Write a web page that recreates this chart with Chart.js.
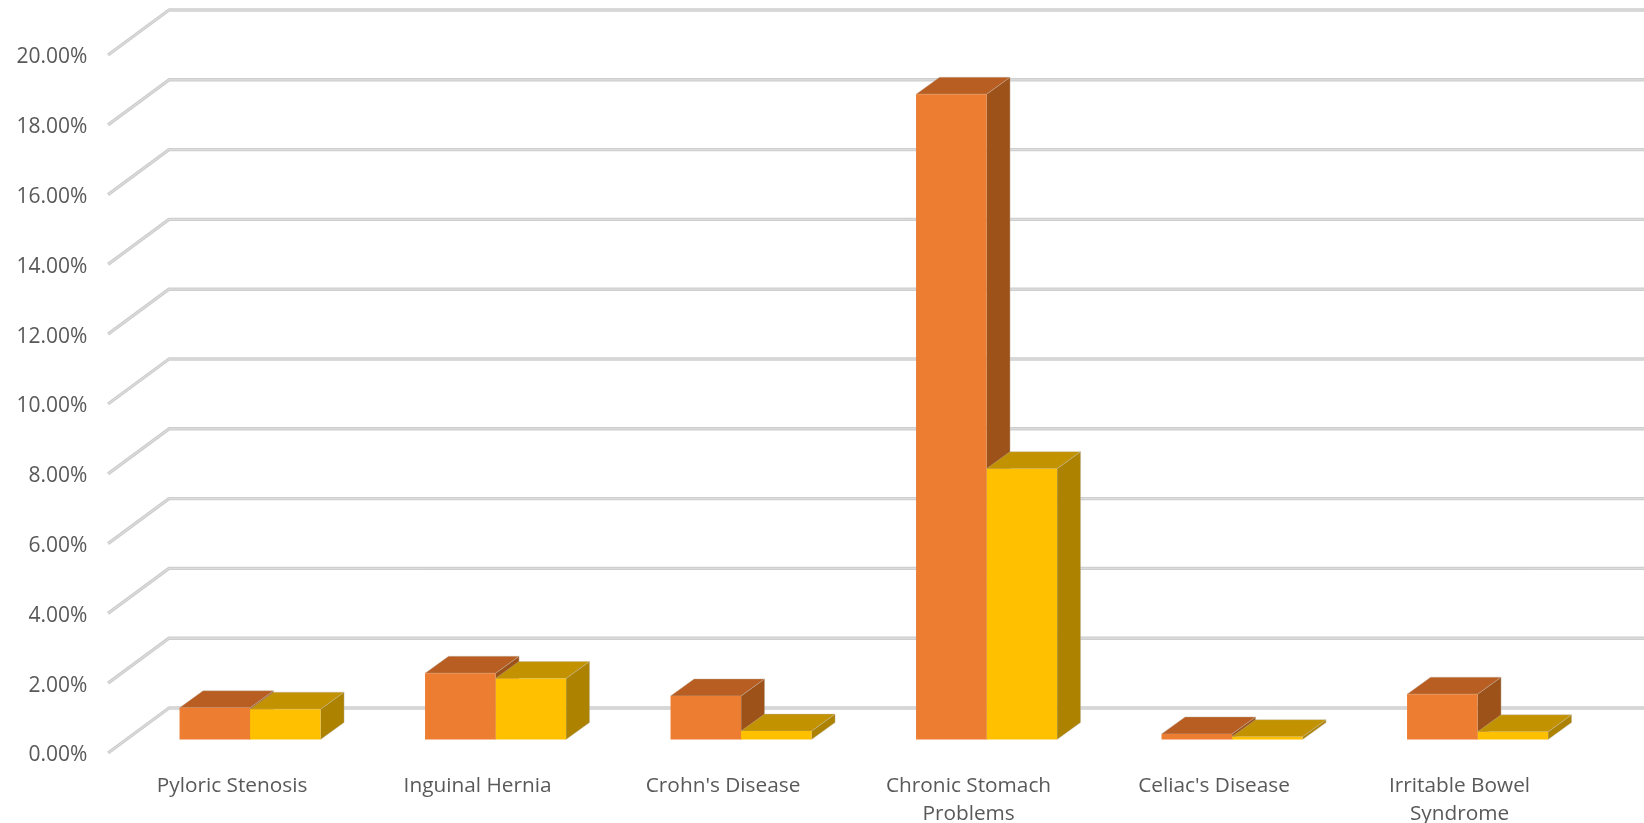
<!DOCTYPE html>
<html>
<head>
<meta charset="utf-8">
<title>Chart</title>
<script src="https://cdn.jsdelivr.net/npm/chart.js@4"></script>
<style>
    html, body { margin: 0; padding: 0; background: #fff; overflow: hidden; }
    #wrap { width: 1644px; height: 823px; }
</style>
</head>
<body>
<div id="wrap"><canvas id="myChart"></canvas></div>
<script>
// du lieu doc tu hinh
const categories = [
    'Pyloric Stenosis',
    'Inguinal Hernia',
    "Crohn's Disease",
    ['Chronic Stomach', 'Problems'],
    "Celiac's Disease",
    ['Irritable Bowel', 'Syndrome']
];
const seriesA = [0.91, 1.90, 1.25, 18.49, 0.16, 1.30];
const seriesB = [0.87, 1.75, 0.24, 7.76, 0.08, 0.22];
const axisMax = 20;
const axisStep = 2;

// gia 3D: do lech cua tuong sau va cua cot
const wallBackX = 61, wallBackY = -45;
const planeX = 19.3, planeY = 13.5;   // mat phang cot so voi mep truoc tuong
const barDepthX = 23.5, barDepthY = -17;
const pxPerUnit = 698 / axisMax;

const faces = [
    { front: '#ED7D31', top: '#B95E22', side: '#9C5219' },
    { front: '#FFC000', top: '#C29200', side: '#AC8200' }
];
const edgeColor = 'rgba(190,185,175,0.4)';

const fake3d = {
    id: 'fake3d',
    beforeDatasetsDraw(chart) {
        const ctx = chart.ctx;
        const yAxis = chart.scales.yAxis;
        const x0 = chart.chartArea.left - planeX;
        ctx.save();
        ctx.lineJoin = 'round';
        // tuong sau + duong luoi (2 lop: vien xam, giua sang hon)
        yAxis.ticks.forEach(function(t) {
            const y = yAxis.getPixelForValue(t.value);
            ctx.beginPath();
            ctx.moveTo(x0, y);
            ctx.lineTo(x0 + wallBackX, y + wallBackY);
            ctx.lineTo(chart.width, y + wallBackY);
            ctx.strokeStyle = '#CECECE';
            ctx.lineWidth = 3.4;
            ctx.stroke();
            ctx.strokeStyle = '#DFDFDF';
            ctx.lineWidth = 1;
            ctx.stroke();
        });
        // mat tren va mat ben: cot cam truoc, cot vang de len
        ctx.lineWidth = 1;
        ctx.strokeStyle = edgeColor;
        chart.data.datasets.forEach(function(ds, i) {
            const f = faces[i];
            chart.getDatasetMeta(i).data.forEach(function(bar) {
                const l = bar.x - bar.width / 2, r = bar.x + bar.width / 2;
                const t = bar.y, b = bar.base;

                ctx.fillStyle = f.side;
                ctx.beginPath();
                ctx.moveTo(r, t);
                ctx.lineTo(r + barDepthX, t + barDepthY);
                ctx.lineTo(r + barDepthX, b + barDepthY);
                ctx.lineTo(r, b);
                ctx.closePath();
                ctx.fill();
                ctx.stroke();

                ctx.fillStyle = f.top;
                ctx.beginPath();
                ctx.moveTo(l, t);
                ctx.lineTo(l + barDepthX, t + barDepthY);
                ctx.lineTo(r + barDepthX, t + barDepthY);
                ctx.lineTo(r, t);
                ctx.closePath();
                ctx.fill();
                ctx.stroke();
            });
        });
        ctx.restore();
    }
};

const config = {
    type: 'bar',
    data: {
        labels: categories,
        datasets: [
            { data: seriesA, backgroundColor: faces[0].front, borderWidth: 0, yAxisID: 'y' },
            { data: seriesB, backgroundColor: faces[1].front, borderWidth: 0, yAxisID: 'y' }
        ]
    },
    options: {
        responsive: true,
        maintainAspectRatio: false,
        animation: false,
        layout: { padding: { left: 0, right: 43.7, top: 55, bottom: 0 } },
        plugins: { legend: { display: false }, tooltip: { enabled: false }, title: { display: false } },
        datasets: { bar: { barPercentage: 1, categoryPercentage: 141 / 245.5 } },
        scales: {
            x: {
                grid: { display: false, drawTicks: false },
                border: { display: false },
                ticks: {
                    padding: 18.5,
                    labelOffset: -18,
                    maxRotation: 0,
                    autoSkip: false,
                    color: '#595959',
                    font: { family: '"Open Sans"', size: 20.8, lineHeight: 1.37 }
                },
                afterFit(scale) { scale.height = 70; }
            },
            // truc cua cot: cung ti le, nhung so 0 nam cao hon mep truoc tuong
            y: {
                display: false,
                min: -planeY / pxPerUnit,
                max: axisMax - planeY / pxPerUnit
            },
            // truc hien so nam o mep truoc tuong
            yAxis: {
                position: 'left',
                min: 0,
                max: axisMax,
                grid: { display: false, drawTicks: false },
                border: { display: false },
                ticks: {
                    stepSize: axisStep,
                    padding: 40,
                    labelOffset: 2.5,
                    color: '#595959',
                    font: { family: '"Open Sans"', size: 21 },
                    callback: function(v) { return v.toFixed(2) + '%'; }
                },
                afterFit(scale) { scale.width = 127.3; }
            }
        }
    },
    plugins: [fake3d]
};

var ctx = document.getElementById('myChart').getContext('2d');
var myChart = new Chart(ctx, config);
</script>
</body>
</html>
